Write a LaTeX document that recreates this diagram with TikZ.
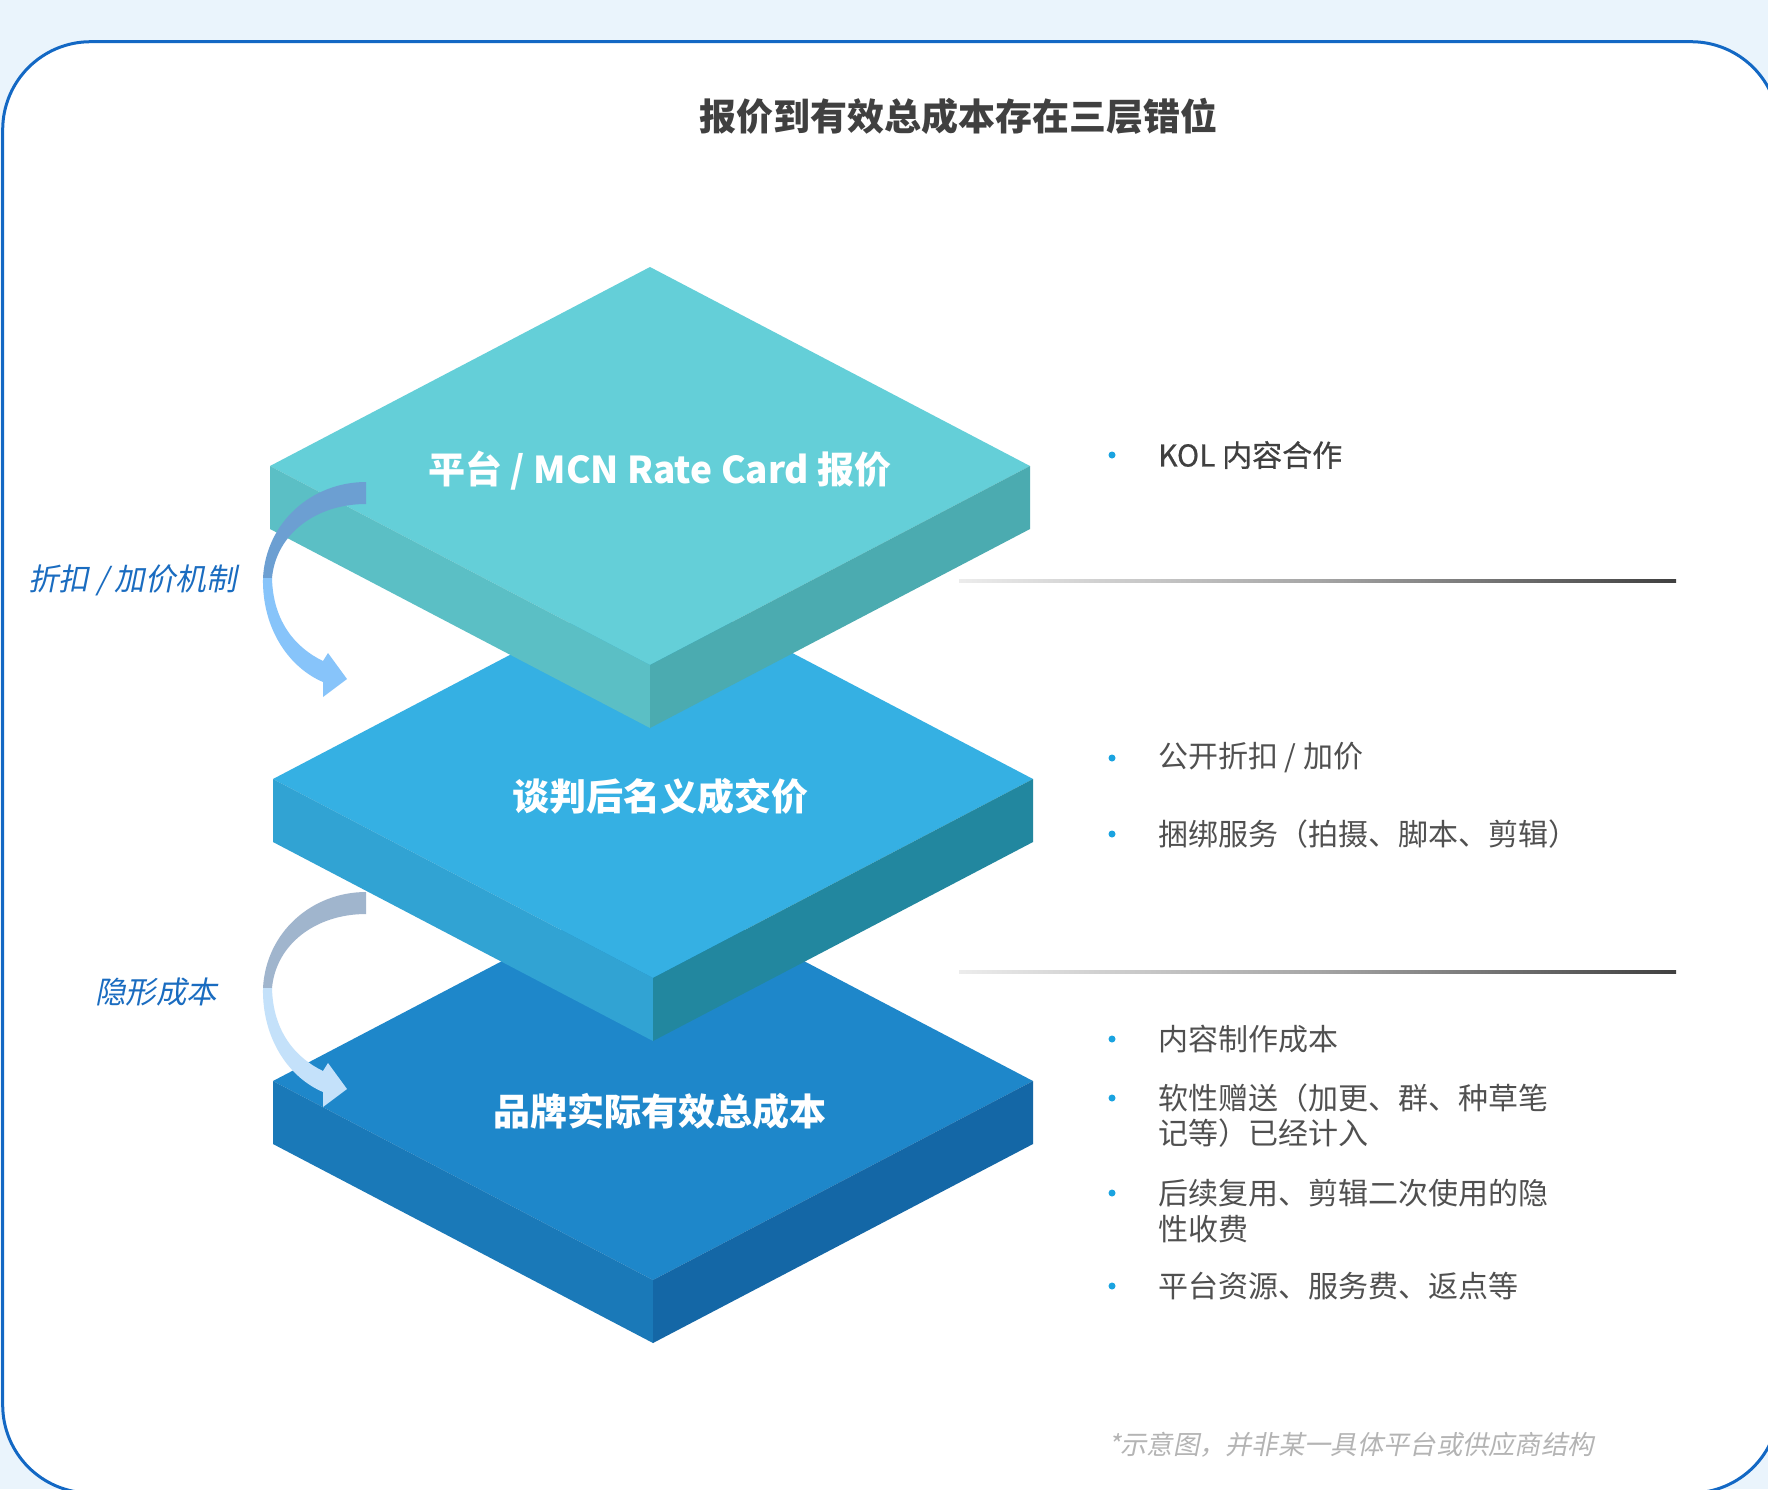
\documentclass[tikz,border=0pt]{standalone}
\usepackage{fontspec}
\setmainfont{Noto Sans CJK SC}[AutoFakeSlant=0.2]
\usepackage{xcolor}
\usetikzlibrary{positioning}

\definecolor{bgblue}{HTML}{EAF4FC}
\definecolor{cardline}{HTML}{1368C4}
\definecolor{titlegray}{HTML}{404040}
\definecolor{textgray}{HTML}{505050}
\definecolor{dotblue}{HTML}{1AA3E0}
\definecolor{notegray}{HTML}{B4B4B4}
\definecolor{labelblue}{HTML}{1A6CC0}
% slab colours: T = top face, L = left side, R = right side
\definecolor{quoteT}{HTML}{64CFD8}
\definecolor{quoteL}{HTML}{5BBFC5}
\definecolor{quoteR}{HTML}{4BABB0}
\definecolor{dealT}{HTML}{35B0E3}
\definecolor{dealL}{HTML}{31A3D3}
\definecolor{dealR}{HTML}{22879F}
\definecolor{brandT}{HTML}{1E87CA}
\definecolor{brandL}{HTML}{1A79B8}
\definecolor{brandR}{HTML}{1467A6}
% curved arrows: back part and front part
\definecolor{discBack}{HTML}{6C9FD2}
\definecolor{discFront}{HTML}{87C4FA}
\definecolor{hiddenBack}{HTML}{A0B5CD}
\definecolor{hiddenFront}{HTML}{C4E1FA}

\tikzset{
  slabtext/.style={text=white, font=\bfseries\fontsize{37}{40}\selectfont, inner sep=0pt},
  itemtext/.style={text=textgray, font=\fontsize{30}{35}\selectfont, anchor=west, inner sep=0pt},
  dot/.style={circle, fill=dotblue, inner sep=0pt, minimum size=7pt},
  sidelabel/.style={text=labelblue, font=\itshape\fontsize{30.5}{35}\selectfont, anchor=west, inner sep=0pt},
  divider/.style={left color=gray!15, right color=titlegray, middle color=gray!70}
}

\begin{document}
\begin{tikzpicture}[x=1pt,y=-1pt]
\useasboundingbox (0,0) rectangle (1768,1489);
\fill[bgblue] (0,0) rectangle (1768,1489);

% card
\draw[cardline, line width=3pt, fill=white, rounded corners=88pt] (2.7,41.7) rectangle (1779,1493);

\node[text=titlegray, font=\bfseries\fontsize{37}{40}\selectfont] (title) at (958,116) {报价到有效总成本存在三层错位};

% three slabs, drawn from the bottom up
\foreach \cx/\cy/\s in {653/1081/brand, 653/779/deal, 650/466/quote} {
  \fill[\s T] (\cx,\cy-199) -- (\cx+380,\cy) -- (\cx,\cy+199) -- (\cx-380,\cy) -- cycle;
  \fill[\s L] (\cx-380,\cy) -- (\cx,\cy+199) -- (\cx,\cy+262) -- (\cx-380,\cy+63) -- cycle;
  \fill[\s R] (\cx+380,\cy) -- (\cx,\cy+199) -- (\cx,\cy+262) -- (\cx+380,\cy+63) -- cycle;
}

\node[slabtext] (quote) at (660,471) {平台 / MCN Rate Card 报价};
\node[slabtext] (deal) at (660,796) {谈判后名义成交价};
\node[slabtext] (brand) at (660,1111) {品牌实际有效总成本};

% curved arrows
\fill[discBack] (366,482) .. controls (312,482) and (266,522) .. (263,578) -- (272,578)
  .. controls (276,534) and (316,504) .. (366,504) -- cycle;
\fill[discFront] (263,578) .. controls (262,630) and (290,668) .. (323,682) -- (323,697) -- (347,679)
  -- (328,653) -- (323,661) .. controls (296,648) and (273,622) .. (272,578) -- cycle;
\begin{scope}[shift={(0,410)}]
\fill[hiddenBack] (366,482) .. controls (312,482) and (266,522) .. (263,578) -- (272,578)
  .. controls (276,534) and (316,504) .. (366,504) -- cycle;
\fill[hiddenFront] (263,578) .. controls (262,630) and (290,668) .. (323,682) -- (323,697) -- (347,679)
  -- (328,653) -- (323,661) .. controls (296,648) and (273,622) .. (272,578) -- cycle;
\end{scope}

\node[sidelabel] (disc) at (28,580) {折扣 / 加价机制};
\node[sidelabel] (hidden) at (95,992) {隐形成本};

% dividers
\shade[divider] (959,579.5) rectangle (1676,582.5);
\shade[divider] (959,970.5) rectangle (1676,973.5);

% bullet lists
\node[dot] (d1) at (1112,455) {};
\node[itemtext, text=titlegray, font=\fontsize{30}{35}\selectfont\addfontfeatures{FakeBold=0.6}] (kol) at (1158,455) {KOL 内容合作};

\node[dot] (d2) at (1112,758) {};
\node[itemtext] (open) at (1158,758) {公开折扣 / 加价};
\node[dot] (d3) at (1112,834) {};
\node[itemtext] (bundle) at (1158,834) {捆绑服务（拍摄、脚本、剪辑）};

\node[dot] (d4) at (1112,1039) {};
\node[itemtext] (make) at (1158,1039) {内容制作成本};
\node[dot] (d5) at (1112,1098) {};
\node[itemtext] (soft) at (1158,1098) {软性赠送（加更、群、种草笔};
\node[itemtext] (soft2) at (1158,1133) {记等）已经计入};
\node[dot] (d6) at (1112,1193) {};
\node[itemtext] (reuse) at (1158,1193) {后续复用、剪辑二次使用的隐};
\node[itemtext] (reuse2) at (1158,1229) {性收费};
\node[dot] (d7) at (1112,1286) {};
\node[itemtext] (fees) at (1158,1286) {平台资源、服务费、返点等};

\node[text=notegray, font=\itshape\fontsize{26.3}{30}\selectfont, anchor=west, inner sep=0pt] (note) at (1108,1445) {*示意图，并非某一具体平台或供应商结构};
\end{tikzpicture}
\end{document}
